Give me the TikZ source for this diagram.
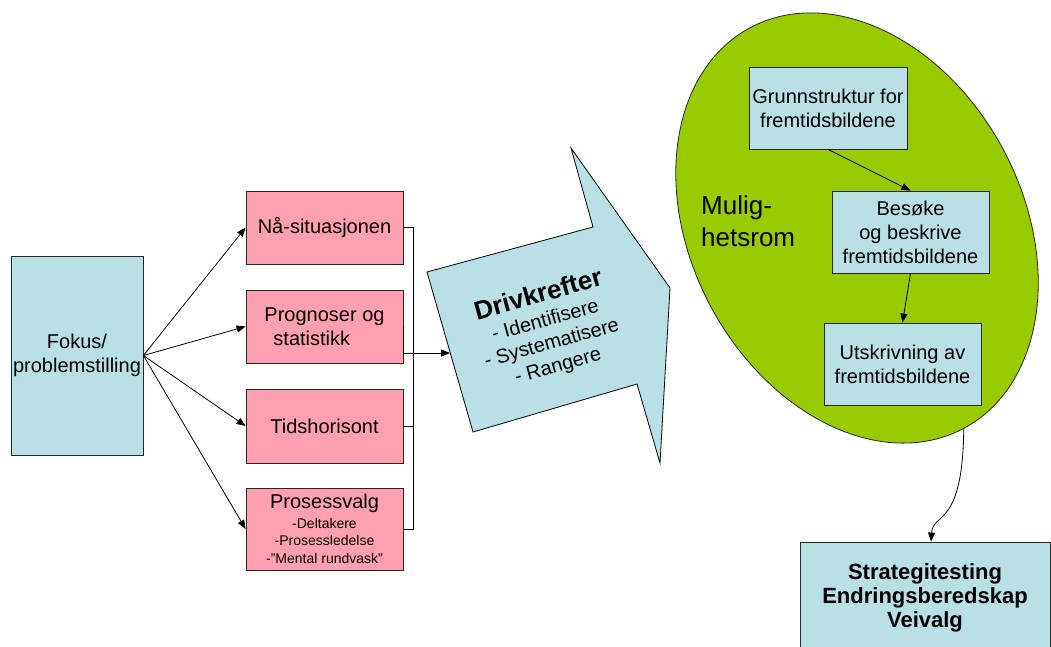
\documentclass[tikz,border=0pt]{standalone}
\usepackage{fontspec}
\setmainfont{Liberation Sans}
\usetikzlibrary{shapes.geometric,arrows.meta,calc}
\definecolor{lblue}{RGB}{185,224,228}
\definecolor{lpink}{RGB}{255,160,176}
\definecolor{lgreen}{RGB}{153,204,0}
\begin{document}
\begin{tikzpicture}[x=1pt,y=-1pt,
  box/.style={draw=black!85, line width=0.8pt, inner sep=0pt, align=center, font=\fontsize{20}{24}\selectfont},
  bbox/.style={box, fill=lblue},
  pbox/.style={box, fill=lpink, minimum width=157pt},
  arr/.style={-{Triangle[length=9pt,width=7pt]}, line width=0.8pt},
  ln/.style={line width=0.8pt}]
\clip (0,0) rectangle (1051,646);
\fill[white] (0,0) rectangle (1051,646);

% left box
\node[bbox, minimum width=132pt, minimum height=199pt] (fokus) at (77,355.5) {Fokus/\\problemstilling};

% pink boxes
\node[pbox, minimum height=73pt] (na) at (324.5,227.5) {Nå-situasjonen};
\node[pbox, minimum height=73pt, align=left] (pr) at (324.5,326.5) {Prognoser og\\\hspace*{9pt}statistikk};
\node[pbox, minimum height=74pt] (ti) at (324.5,426) {Tidshorisont};
\node[pbox, minimum height=82pt, font=\fontsize{14}{17.5}\selectfont] (pv) at (324.5,529) {{\fontsize{20}{24}\selectfont Prosessvalg}\\[2pt]-Deltakere\\-Prosessledelse\\-”Mental rundvask”};

% arrows from Fokus
\foreach \t in {na,pr,ti,pv}{\draw[arr] (fokus.east) -- (\t.west);}

% Drivkrefter arrow
\coordinate (dA) at (427,272);
\coordinate (dB) at (593,227);
\coordinate (dC) at (571,148);
\coordinate (dD) at (670,288);
\coordinate (dE) at (660,463);
\coordinate (dF) at (637,384);
\coordinate (dG) at (473,432);
\coordinate (dIn) at (450,353);
\draw[ln, fill=lblue] (dA) -- (dB) -- (dC) -- (dD) -- (dE) -- (dF) -- (dG) -- cycle;
\node[rotate=15.5, align=center, inner sep=0pt, font=\fontsize{20}{23.5}\selectfont] (dtxt) at (548,330)
  {{\bfseries\fontsize{26}{26}\selectfont Drivkrefter}\\[1pt]- Identifisere\\- Systematisere\\- Rangere};

% bracket connectors
\draw[ln] (na.east) -| ($(pv.east)+(10,0)$) -- (pv.east);
\draw[ln] (ti.east) -- ++(10,0);
\draw[arr] (pr.east) |- (dIn);

% ellipse
\node[ellipse, draw=black!85, line width=0.8pt, fill=lgreen, minimum width=454pt, minimum height=332pt, inner sep=0pt, rotate=-62] (ell) at (857,228) {};
\node[anchor=west, align=left, inner sep=0pt, font=\fontsize{26}{31.5}\selectfont] (mh) at (701,221) {Mulig-\\hetsrom};

\node[bbox, minimum width=158pt, minimum height=82pt] (g) at (828,108) {Grunnstruktur for\\fremtidsbildene};
\node[bbox, minimum width=157pt, minimum height=82pt] (b) at (910.5,232) {Besøke\\og beskrive\\fremtidsbildene};
\node[bbox, minimum width=157pt, minimum height=82pt] (u) at (902.5,364) {Utskrivning av\\fremtidsbildene};
\draw[arr] (g.south) -- (b.north);
\draw[arr] (b.south) -- (u.north);

% bottom right box
\node[bbox, minimum width=250pt, minimum height=112pt, font=\bfseries\fontsize{22}{24}\selectfont] (st) at (925,598) {Strategitesting\\Endringsberedskap\\Veivalg};
\draw[arr] (ell.east) .. controls +(-1,100) and +(2,-30) .. ($(st.north)+(6,0)$);
\end{tikzpicture}
\end{document}
